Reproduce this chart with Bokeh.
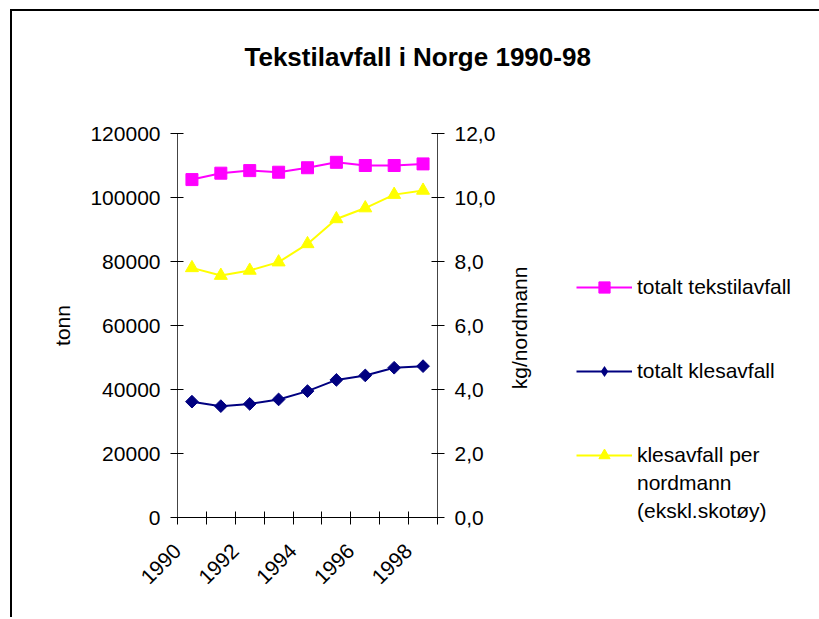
import math
from bokeh.plotting import figure
from bokeh.models import (Range1d, LinearAxis, FixedTicker, NumeralTickFormatter,
                          Legend, LegendItem, Title)
from bokeh.embed import file_html
from bokeh.resources import INLINE

# ---- data ----
years = [1990, 1991, 1992, 1993, 1994, 1995, 1996, 1997, 1998]
tekstil_tonn = [105600, 107600, 108400, 107900, 109300, 111000, 110000, 110000, 110500]
kles_tonn = [36200, 34800, 35500, 36900, 39500, 43000, 44400, 46800, 47300]
kles_per_person = [7.80, 7.56, 7.72, 7.98, 8.55, 9.33, 9.67, 10.09, 10.22]
left_ticks = [0, 20000, 40000, 60000, 80000, 100000, 120000]
right_ticks = [0, 2, 4, 6, 8, 10, 12]
right_tick_labels = ["0,0", "2,0", "4,0", "6,0", "8,0", "10,0", "12,0"]
series_names = ["totalt tekstilavfall", "totalt klesavfall", "klesavfall per"]
extra_legend_lines = ["nordmann", "(ekskl.skotøy)"]
title_text = "Tekstilavfall i Norge 1990-98"
left_title = "tonn"
right_title = "kg/nordmann"

FONT = "Liberation Sans"
MAGENTA = "#FF00FF"
NAVY = "#000080"
YELLOW = "#FFFF00"

xs = [i + 0.5 for i in range(len(years))]

p = figure(frame_width=260, frame_height=384,
           x_range=Range1d(0, len(years)), y_range=Range1d(0, 120000),
           output_backend="svg", toolbar_location=None,
           min_border_left=165, min_border_top=122,
           min_border_right=380, min_border_bottom=100)
p.styles = {"margin-left": "10px", "margin-top": "9px",
            "border-left": "2px solid #000000", "border-top": "2px solid #000000"}
p.extra_y_ranges = {"right": Range1d(0, 12)}
p.xgrid.visible = False
p.ygrid.visible = False
p.outline_line_color = None
p.background_fill_color = "white"
p.border_fill_color = "white"

# title: hidden default title, a spacer next to the frame, then the real title
p.title.visible = False
p.add_layout(Title(text=" ", text_font_size="1px", standoff=59), "above")
p.add_layout(Title(text=title_text, align="left", offset=67, standoff=0,
                   vertical_align="bottom", text_font=FONT, text_font_size="26px",
                   text_font_style="bold", text_color="black"), "above")

# axes
xaxis = p.xaxis[0]
xaxis.ticker = FixedTicker(ticks=list(range(len(years) + 1)))
overrides = {i: "" for i in range(len(years) + 1)}
for i, yr in enumerate(years):
    if i % 2 == 0:
        overrides[i] = str(yr)
xaxis.major_label_overrides = overrides
xaxis.major_label_orientation = math.pi / 4

yaxis = p.yaxis[0]
yaxis.ticker = FixedTicker(ticks=left_ticks)
yaxis.formatter = NumeralTickFormatter(format="0")
yaxis.axis_label = left_title

raxis = LinearAxis(y_range_name="right", ticker=FixedTicker(ticks=right_ticks))
raxis.major_label_overrides = {t: s for t, s in zip(right_ticks, right_tick_labels)}
raxis.axis_label_orientation = math.pi / 2
raxis.axis_label_align = "start"
raxis.axis_label = "\u00a0" * 22 + right_title
p.add_layout(raxis, "right")

for ax in (xaxis, yaxis, raxis):
    ax.major_tick_in = 6
    ax.major_tick_out = 7
    ax.minor_tick_line_color = None
    ax.major_tick_line_color = "black"
    ax.axis_line_color = "black"
    ax.major_label_text_font = FONT
    ax.major_label_text_font_size = "21px"
    ax.major_label_text_color = "black"
    ax.major_label_standoff = 10
    ax.axis_label_text_font = FONT
    ax.axis_label_text_font_size = "21px"
    ax.axis_label_text_font_style = "normal"
    ax.axis_label_text_color = "black"
yaxis.axis_label_standoff = 13
raxis.axis_label_standoff = 21
xaxis.major_label_standoff = 23
yaxis.axis_line_color = "#444444"
raxis.axis_line_color = "#444444"

# series
r1 = p.line(xs, tekstil_tonn, line_color=MAGENTA, line_width=2)
s1 = p.scatter(xs, tekstil_tonn, marker="square", size=12, fill_color=MAGENTA, line_color=MAGENTA)
r2 = p.line(xs, kles_tonn, line_color=NAVY, line_width=2)
s2 = p.scatter(xs, kles_tonn, marker="square", angle=math.pi / 4, size=9, fill_color=NAVY, line_color=NAVY)
# same points, zero size: only gives the legend a diamond-shaped key
s2_key = p.scatter(xs, kles_tonn, marker="diamond", size=0, fill_color=NAVY, line_alpha=0)
r3 = p.line(xs, kles_per_person, line_color=YELLOW, line_width=2, y_range_name="right")
s3 = p.scatter(xs, kles_per_person, marker="triangle", size=13, fill_color=YELLOW, line_color=YELLOW,
               y_range_name="right")

def blank():
    return LegendItem(label="", renderers=[])

items = [LegendItem(label=series_names[0], renderers=[r1, s1]), blank(), blank(),
         LegendItem(label=series_names[1], renderers=[r2, s2_key]), blank(), blank(),
         LegendItem(label=series_names[2], renderers=[r3, s3]),
         LegendItem(label=extra_legend_lines[0], renderers=[]),
         LegendItem(label=extra_legend_lines[1], renderers=[])]
legend = Legend(items=items, location=(-192, -8), orientation="vertical",
                glyph_width=56, glyph_height=28, label_height=28, spacing=0,
                label_standoff=5, padding=0, margin=0,
                border_line_color=None, background_fill_alpha=0,
                label_text_font=FONT, label_text_font_size="21px", label_text_color="black")
p.add_layout(legend, "right")

open("out.html", "w").write(file_html(p, INLINE))
